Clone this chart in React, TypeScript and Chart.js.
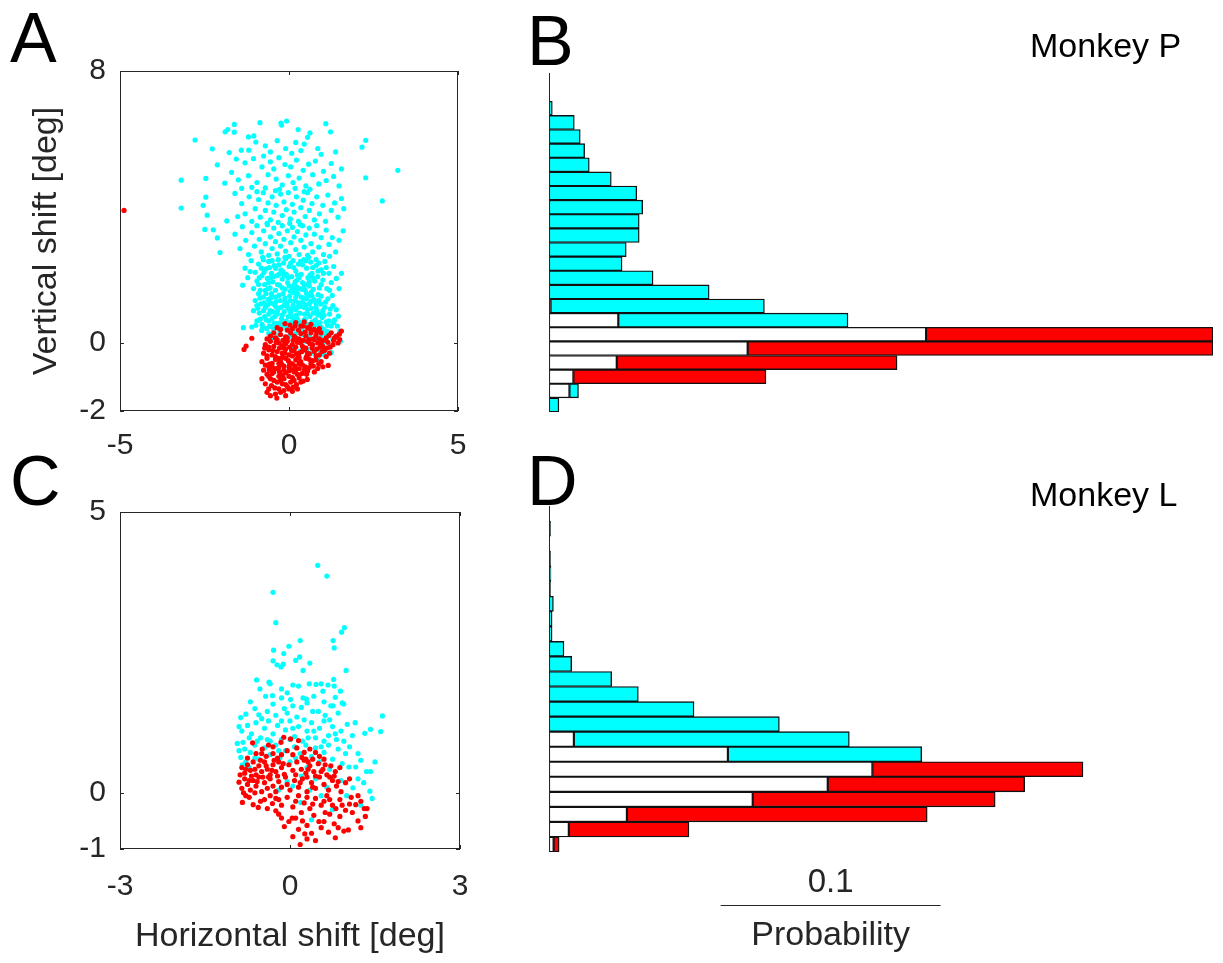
import React, { useEffect, useRef } from 'react';
import { Chart, registerables } from 'chart.js';

Chart.register(...registerables);

type P = [number, number];

// ---------- Panel A (Monkey P) scatter: [horizontal deg, vertical deg] ----------
const A_RED: P[] = [
  [-4.88, 3.9], [-1.33, -0.19], [-1.27, -0.09], [-1.1, 0.14],
  [-0.12, 0.57], [0.03, 0.53], [0.2, 0.6], [0.35, 0.5], [0.55, 0.45], [0.75, 0.4], [-0.25, 0.4], [0.1, 0.42], [0.45, 0.62], [0.65, 0.55], [-0.05, 0.38], [0.28, 0.38], [0.9, 0.42],
  [-0.55, 0.2], [-0.4, 0.15], [-0.25, 0.25], [-0.1, 0.18], [0.05, 0.3], [0.2, 0.15], [0.35, 0.28], [0.5, 0.2], [0.65, 0.3], [0.8, 0.22], [0.95, 0.3], [1.1, 0.15], [1.25, 0.3], [1.4, 0.2], [1.49, 0.26], [1.55, 0.35], [1.5, 0.1], [-0.45, 0.3], [0.6, 0.1], [0.9, 0.12], [-0.65, 0.12], [0.12, 0.08], [0.42, 0.08], [1.02, 0.08], [1.32, 0.08], [-0.18, 0.08], [0.72, 0.12],
  [-0.7, -0.05], [-0.55, 0.05], [-0.45, -0.1], [-0.3, 0.0], [-0.2, -0.08], [-0.05, 0.05], [0.1, -0.05], [0.25, 0.02], [0.4, -0.1], [0.55, 0.05], [0.7, -0.05], [0.85, 0.0], [1.0, -0.1], [1.15, 0.02], [1.3, -0.05], [1.45, 0.0], [-0.35, 0.1], [0.3, 0.12], [0.75, 0.1], [-0.15, -0.15], [0.2, -0.12], [0.5, -0.15], [0.02, -0.12], [-0.6, -0.12], [1.22, -0.12], [0.92, -0.12],
  [-0.75, -0.3], [-0.6, -0.2], [-0.5, -0.35], [-0.35, -0.25], [-0.2, -0.3], [-0.1, -0.18], [0.0, -0.35], [0.15, -0.22], [0.3, -0.3], [0.45, -0.2], [0.6, -0.32], [0.75, -0.25], [0.9, -0.35], [1.05, -0.22], [1.2, -0.3], [-0.4, -0.4], [-0.2, -0.42], [0.1, -0.38], [0.3, -0.42], [-0.65, -0.38], [0.52, -0.4], [0.82, -0.18], [-0.28, -0.15], [1.1, -0.4],
  [-0.8, -0.55], [-0.65, -0.45], [-0.5, -0.6], [-0.4, -0.48], [-0.25, -0.55], [-0.1, -0.45], [0.05, -0.6], [0.2, -0.5], [0.35, -0.55], [0.5, -0.45], [0.65, -0.6], [0.8, -0.5], [0.95, -0.55], [1.0, -0.7], [1.16, -0.66], [-0.3, -0.6], [0.1, -0.62], [0.4, -0.65], [-0.15, -0.68], [0.25, -0.45], [0.72, -0.68], [-0.58, -0.62], [0.6, -0.48], [-0.02, -0.52],
  [-0.75, -0.8], [-0.6, -0.7], [-0.45, -0.85], [-0.3, -0.72], [-0.15, -0.8], [0.0, -0.7], [0.15, -0.85], [0.3, -0.75], [0.45, -0.8], [0.6, -0.72], [0.75, -0.85], [-0.2, -0.95], [0.25, -0.92], [-0.5, -0.9], [-0.1, -0.88], [0.08, -0.78], [0.38, -0.9], [-0.38, -0.75], [0.52, -0.92], [0.85, -0.75], [-0.65, -0.92],
  [-0.8, -1.05], [-0.6, -0.98], [-0.45, -1.1], [-0.3, -0.98], [-0.15, -1.05], [0.0, -0.98], [0.15, -1.1], [0.3, -1.02], [0.54, -1.07], [-0.7, -1.2], [-0.35, -1.15], [0.05, -1.15], [-0.52, -1.25], [-0.2, -1.2], [0.22, -1.22], [0.42, -1.12], [-0.05, -1.28],
  [-0.6, -1.35], [-0.3, -1.35], [0.0, -1.35], [0.25, -1.35], [-0.65, -1.45], [-0.4, -1.5], [-0.25, -1.45], [-0.1, -1.55], [-0.36, -1.62], [-0.55, -1.55], [-0.15, -1.4], [0.1, -1.42],
  [-0.72, -0.15], [-0.48, -0.22], [-0.32, -0.45], [-0.12, -0.3], [0.08, -0.22], [0.22, -0.32], [0.38, -0.25], [0.55, -0.3], [0.68, -0.15], [0.8, -0.38], [0.98, -0.25], [1.12, -0.15], [-0.7, -0.65], [-0.48, -0.72], [-0.22, -0.62], [0.02, -0.62], [0.18, -0.68], [0.3, -0.6], [0.48, -0.7], [0.7, -0.52], [0.88, -0.62], [-0.55, -1.05], [-0.25, -1.1], [0.1, -1.02], [0.35, -1.15], [-0.42, -1.32], [-0.1, -1.22], [0.12, -1.3], [-0.28, -0.85], [0.0, -0.82], [0.2, -0.8], [0.55, -0.82], [-0.58, -0.8], [-0.38, 0.02], [-0.05, 0.15], [0.15, 0.2], [0.48, 0.32], [0.62, 0.42], [0.82, 0.32], [1.18, 0.22], [1.35, 0.15], [0.35, 0.0], [0.62, -0.02], [0.95, -0.02], [-0.1, -0.02], [0.18, 0.5], [0.42, 0.5], [-0.35, 0.45],
];

const A_CYAN: P[] = [
  [-2.78, 5.97], [-1.89, 6.21], [-1.81, 6.28], [-1.62, 6.43], [-1.62, 6.2], [-1.2, 6.06], [-1.04, 6.09], [-0.98, 5.91], [-0.86, 6.48], [-0.24, 6.47], [-0.22, 6.41], [-0.07, 6.53], [0.27, 6.28], [0.45, 5.85], [0.55, 6.05], [0.62, 6.18], [1.09, 6.45], [1.23, 6.21], [2.16, 5.76], [2.27, 5.96], [-2.27, 5.71], [-1.77, 5.6], [-1.41, 5.67], [-1.19, 5.67], [-0.55, 5.62], [-0.35, 5.95], [-0.1, 5.72], [0.08, 5.58], [0.2, 5.9], [0.85, 5.72], [1.38, 5.62], [0.35, 5.66], [-0.7, 5.8], [0.95, 5.55],
  [3.22, 5.08], [2.27, 4.86], [-3.19, 4.79], [-2.12, 5.24], [-2.46, 4.84], [-1.7, 5.02], [-1.56, 5.41], [-1.9, 4.7], [-1.5, 4.8], [-1.3, 5.3], [-1.2, 4.92], [-1.05, 5.42], [-0.95, 4.72], [-0.8, 5.18], [-0.75, 5.5], [-0.62, 4.95], [-0.55, 5.33], [-0.45, 5.12], [-0.38, 4.82], [-0.3, 5.45], [-0.2, 4.65], [-0.12, 5.25], [-0.02, 4.92], [0.05, 5.18], [0.12, 4.72], [0.22, 5.38], [0.3, 4.85], [0.42, 5.08], [0.5, 4.62], [0.58, 5.26], [0.7, 4.95], [0.78, 5.35], [0.88, 4.68], [1.02, 5.05], [1.1, 4.78], [1.25, 5.28], [1.32, 4.9], [1.48, 4.62], [-1.1, 4.58], [-0.7, 4.56], [-0.28, 4.52], [0.18, 4.55], [0.62, 4.52], [1.55, 5.12], [-1.4, 4.55],
  [-3.19, 3.97], [2.76, 4.18], [-2.46, 4.29], [-2.54, 4.05], [-2.42, 3.76], [-1.84, 3.59], [-1.6, 4.4], [-1.52, 3.72], [-1.4, 4.1], [-1.3, 3.8], [-1.18, 4.3], [-1.1, 3.58], [-1.0, 3.95], [-0.9, 4.22], [-0.85, 3.7], [-0.76, 4.42], [-0.7, 3.9], [-0.62, 4.12], [-0.55, 3.62], [-0.5, 4.3], [-0.45, 3.85], [-0.38, 4.05], [-0.32, 3.55], [-0.25, 4.38], [-0.2, 3.75], [-0.15, 4.15], [-0.08, 3.92], [-0.02, 4.42], [0.04, 3.65], [0.1, 4.08], [0.15, 3.85], [0.22, 4.3], [0.28, 3.58], [0.35, 3.98], [0.42, 4.2], [0.48, 3.72], [0.55, 4.42], [0.6, 3.9], [0.68, 4.1], [0.75, 3.62], [0.82, 4.3], [0.9, 3.8], [1.0, 4.05], [1.08, 3.58], [1.15, 4.35], [1.25, 3.9], [1.35, 4.12], [1.45, 3.7], [1.55, 4.25], [1.62, 3.95], [-0.95, 4.45], [0.45, 4.45], [-0.4, 4.48], [0.02, 3.52], [-0.65, 3.52],
  [-2.49, 3.34], [-2.24, 3.33], [-2.12, 3.09], [-2.04, 2.66], [-1.6, 3.2], [-1.45, 2.78], [-1.38, 3.42], [-1.28, 3.02], [-1.2, 2.6], [-1.1, 3.25], [-1.02, 2.85], [-0.95, 3.45], [-0.88, 3.05], [-0.82, 2.68], [-0.75, 3.3], [-0.7, 2.92], [-0.64, 3.48], [-0.6, 2.58], [-0.55, 3.12], [-0.5, 2.78], [-0.45, 3.38], [-0.4, 2.98], [-0.35, 2.62], [-0.3, 3.22], [-0.25, 2.85], [-0.2, 3.45], [-0.15, 3.05], [-0.1, 2.7], [-0.05, 3.3], [0.0, 2.55], [0.05, 2.95], [0.1, 3.4], [0.15, 3.12], [0.2, 2.75], [0.25, 3.28], [0.3, 2.6], [0.35, 3.02], [0.4, 3.45], [0.45, 2.82], [0.5, 3.18], [0.55, 2.58], [0.6, 3.38], [0.65, 2.92], [0.7, 2.68], [0.75, 3.2], [0.82, 3.45], [0.88, 2.82], [0.95, 3.1], [1.02, 2.6], [1.1, 3.32], [1.18, 2.9], [1.28, 3.1], [1.38, 2.68], [1.48, 3.02], [1.6, 3.3], [-0.12, 2.52], [0.58, 2.52], [-0.78, 2.52], [1.2, 2.55], [0.33, 3.48],
  [-1.37, 1.7], [-1.3, 2.2], [-1.22, 1.92], [-1.12, 2.42], [-1.05, 1.6], [-1.0, 2.08], [-0.95, 1.82], [-0.9, 2.32], [-0.85, 1.55], [-0.8, 1.98], [-0.76, 2.45], [-0.72, 1.72], [-0.68, 2.18], [-0.64, 1.9], [-0.6, 2.4], [-0.56, 1.62], [-0.52, 2.05], [-0.48, 1.8], [-0.44, 2.28], [-0.4, 1.55], [-0.36, 1.98], [-0.32, 2.45], [-0.28, 1.7], [-0.24, 2.15], [-0.2, 1.88], [-0.16, 2.35], [-0.12, 1.58], [-0.08, 2.02], [-0.04, 1.78], [0.0, 2.25], [0.04, 1.52], [0.08, 1.95], [0.12, 2.42], [0.16, 1.72], [0.2, 2.12], [0.24, 1.85], [0.28, 2.32], [0.32, 1.6], [0.36, 2.02], [0.4, 1.78], [0.44, 2.45], [0.48, 1.55], [0.52, 2.2], [0.56, 1.92], [0.6, 1.68], [0.64, 2.38], [0.68, 2.05], [0.72, 1.58], [0.76, 1.82], [0.8, 2.28], [0.85, 1.95], [0.9, 1.62], [0.95, 2.15], [1.0, 1.85], [1.06, 2.4], [1.12, 1.6], [1.18, 2.05], [1.25, 1.78], [1.32, 2.25], [1.4, 1.9], [1.48, 1.6], [-0.7, 1.55], [-0.5, 2.42], [-0.3, 2.02], [-0.1, 2.48], [0.1, 1.62], [0.3, 1.92], [0.5, 2.42], [0.7, 2.22], [-0.9, 1.72], [-0.6, 1.78], [-0.2, 1.62], [0.2, 1.58], [0.6, 1.8], [0.95, 1.72], [-0.4, 2.2], [0.0, 1.68], [0.4, 2.3], [0.8, 2.45], [-0.15, 1.98], [0.25, 2.0], [0.62, 2.0], [1.1, 2.22], [-1.15, 2.1], [1.55, 2.05], [-0.82, 2.2], [0.05, 2.35], [-0.55, 1.92], [0.45, 1.68], [0.88, 2.35],
  [-0.88, 1.92], [-0.74, 2.08], [-0.62, 1.6], [-0.46, 1.95], [-0.34, 1.72], [-0.18, 2.1], [-0.02, 1.92], [0.14, 2.22], [0.22, 1.65], [0.38, 1.58], [0.54, 1.72], [0.7, 1.92], [0.86, 2.12], [1.02, 2.05], [1.2, 1.55], [-0.3, 2.3], [0.34, 2.4], [0.66, 1.5], [-0.58, 2.22], [0.18, 1.8],
  [-1.35, 0.45], [-1.1, 0.47], [-0.81, 0.37], [-1.05, 0.95], [-1.0, 1.25], [-0.95, 0.65], [-0.9, 1.45], [-0.88, 0.88], [-0.84, 1.15], [-0.8, 0.55], [-0.76, 1.35], [-0.72, 0.78], [-0.7, 1.05], [-0.66, 0.42], [-0.62, 1.28], [-0.6, 0.65], [-0.56, 0.95], [-0.52, 1.45], [-0.5, 0.48], [-0.46, 1.15], [-0.42, 0.78], [-0.4, 1.35], [-0.36, 0.58], [-0.32, 1.02], [-0.28, 0.38], [-0.26, 1.25], [-0.22, 0.72], [-0.18, 1.45], [-0.14, 0.92], [-0.1, 0.52], [-0.06, 1.18], [-0.02, 0.78], [0.02, 1.38], [0.06, 0.6], [0.1, 1.02], [0.14, 0.42], [0.18, 1.25], [0.22, 0.82], [0.26, 1.45], [0.3, 0.62], [0.34, 1.08], [0.38, 0.45], [0.42, 1.32], [0.46, 0.85], [0.5, 1.12], [0.54, 0.55], [0.58, 1.4], [0.62, 0.78], [0.66, 1.02], [0.7, 0.48], [0.74, 1.28], [0.78, 0.68], [0.82, 0.95], [0.86, 1.42], [0.9, 0.52], [0.94, 1.15], [0.98, 0.75], [1.02, 0.4], [1.06, 1.05], [1.1, 0.62], [1.15, 1.3], [1.2, 0.85], [1.25, 0.5], [1.3, 1.1], [1.35, 0.68], [1.46, 0.79], [1.43, 0.5], [1.5, 0.35], [1.4, 0.98], [-0.75, 0.95], [-0.55, 1.18], [-0.35, 0.85], [-0.15, 1.1], [0.05, 0.9], [0.25, 1.05], [0.45, 0.68], [0.65, 1.22], [0.85, 0.82], [-0.45, 0.4], [-0.05, 0.38], [0.35, 0.35], [0.75, 0.38], [1.12, 0.35], [-0.6, 0.85], [-0.25, 0.6], [0.12, 0.7], [0.55, 0.98], [0.95, 1.38], [-0.85, 0.7], [-0.4, 1.08], [0.0, 1.0], [0.4, 1.2], [0.8, 1.15], [1.18, 0.65], [-0.68, 1.45], [-0.12, 1.32], [0.28, 0.55], [0.68, 0.62], [1.0, 0.95], [-0.3, 1.4], [0.15, 1.48], [0.52, 1.45], [-0.95, 1.1], [0.92, 0.6], [-0.2, 0.45], [0.6, 0.42], [0.2, 0.98], [-0.5, 0.72], [1.28, 1.4],
  [-0.98, 0.52], [-0.92, 1.02], [-0.86, 1.32], [-0.78, 0.48], [-0.74, 1.18], [-0.67, 0.68], [-0.63, 1.12], [-0.58, 0.5], [-0.54, 1.32], [-0.48, 0.92], [-0.44, 0.58], [-0.38, 1.22], [-0.34, 0.95], [-0.3, 0.48], [-0.24, 1.05], [-0.2, 0.82], [-0.16, 0.55], [-0.12, 1.2], [-0.08, 0.65], [-0.04, 1.05], [0.0, 0.45], [0.04, 1.25], [0.08, 0.78], [0.12, 1.12], [0.16, 0.58], [0.2, 1.35], [0.24, 0.72], [0.28, 1.18], [0.32, 0.88], [0.36, 1.35], [0.4, 0.55], [0.44, 1.05], [0.48, 0.7], [0.52, 1.3], [0.56, 0.85], [0.6, 1.15], [0.64, 0.52], [0.68, 1.38], [0.72, 0.88], [0.76, 0.52], [0.8, 1.05], [0.84, 0.6], [0.88, 1.25], [0.92, 0.85], [0.96, 0.45], [1.04, 0.82], [1.08, 1.2], [1.14, 0.52], [1.22, 1.0], [1.32, 0.6],
  [-0.6, 0.28], [-0.5, 0.15], [-0.3, 0.25], [0.0, 0.2], [0.2, 0.28], [0.4, 0.25], [0.5, 0.05], [0.6, 0.2], [0.7, -0.1], [0.8, 0.1], [0.9, -0.2], [1.0, 0.0], [1.1, 0.25], [1.2, -0.1], [1.3, 0.12], [1.4, 0.2], [1.05, -0.35], [0.85, -0.45], [0.08, -0.14], [0.33, -0.24], [0.52, -0.19], [1.25, -0.28], [1.52, 0.05], [0.95, 0.22], [0.65, -0.3],
];

// ---------- Panel C (Monkey L) scatter ----------
const C_RED: P[] = [
  [-0.66, 0.89], [-0.49, 0.78], [-0.16, 0.9], [0.01, 0.96], [0.15, 0.93], [-0.11, 0.99], [0.21, 0.63], [0.28, 0.6], [0.32, 0.55], [-0.6, 0.7], [-0.38, 0.85], [-0.3, 0.7], [-0.05, 0.75], [0.05, 0.68], [0.35, 0.78], [0.45, 0.72], [0.52, 0.65], [-0.75, 0.62], [-0.22, 0.62], [0.6, 0.6], [-0.42, 0.65], [0.12, 0.8],
  [-0.85, 0.45], [-0.8, 0.35], [-0.75, 0.5], [-0.7, 0.4], [-0.65, 0.55], [-0.6, 0.32], [-0.55, 0.48], [-0.5, 0.38], [-0.45, 0.55], [-0.4, 0.42], [-0.35, 0.32], [-0.3, 0.5], [-0.25, 0.38], [-0.2, 0.55], [-0.15, 0.45], [-0.1, 0.33], [-0.02, 0.5], [0.05, 0.4], [0.12, 0.55], [0.2, 0.42], [0.28, 0.35], [0.35, 0.48], [0.42, 0.38], [0.5, 0.52], [0.58, 0.42], [0.65, 0.32], [0.72, 0.48], [0.8, 0.38], [0.88, 0.45], [-0.68, 0.3], [-0.52, 0.58], [-0.28, 0.58], [0.25, 0.58], [0.45, 0.3],
  [-0.9, 0.19], [-0.85, 0.08], [-0.8, 0.25], [-0.75, 0.15], [-0.7, 0.05], [-0.65, 0.22], [-0.6, 0.12], [-0.55, 0.28], [-0.5, 0.02], [-0.45, 0.18], [-0.4, 0.08], [-0.35, 0.25], [-0.3, 0.12], [-0.25, 0.02], [-0.2, 0.2], [-0.15, 0.1], [-0.08, 0.28], [0.0, 0.05], [0.08, 0.22], [0.15, 0.1], [0.22, 0.25], [0.3, 0.02], [0.38, 0.18], [0.45, 0.08], [0.52, 0.28], [0.6, 0.15], [0.68, 0.05], [0.75, 0.22], [0.82, 0.12], [0.9, 0.02], [0.98, 0.18], [1.05, 0.25], [-0.62, 0.0], [-0.38, 0.28], [0.3, 0.28], [0.7, 0.28], [-0.82, 0.0],
  [-0.84, -0.17], [-0.65, -0.21], [-0.56, -0.26], [-0.31, -0.19], [-0.25, -0.1], [-0.72, -0.08], [-0.45, -0.12], [-0.15, -0.22], [-0.05, -0.08], [0.05, -0.25], [0.15, -0.05], [0.25, -0.18], [0.35, -0.28], [0.45, -0.1], [0.55, -0.22], [0.65, -0.05], [0.75, -0.22], [0.81, -0.28], [0.88, -0.12], [0.98, -0.31], [1.08, -0.08], [1.16, -0.21], [1.31, -0.28], [1.36, -0.28], [1.2, -0.05], [-0.4, -0.28], [0.3, -0.08], [0.6, -0.15],
  [1.2, -0.5], [1.33, -0.42], [1.03, -0.66], [-0.02, -0.51], [0.04, -0.45], [0.1, -0.45], [0.51, -0.51], [0.6, -0.51], [0.26, -0.73], [0.38, -0.72], [0.18, -0.92], [-0.2, -0.38], [-0.1, -0.6], [0.2, -0.35], [0.3, -0.58], [0.42, -0.4], [0.7, -0.38], [0.78, -0.55], [0.88, -0.42], [0.95, -0.68], [1.1, -0.35], [0.68, -0.7], [0.15, -0.65], [0.45, -0.85], [-0.15, -0.45], [0.8, -0.8], [0.55, -0.62], [1.25, -0.62], [-0.25, -0.32], [0.05, -0.78], [0.3, -0.82],
  [-0.88, 0.32], [-0.78, 0.42], [-0.72, 0.22], [-0.62, 0.42], [-0.58, 0.2], [-0.48, 0.28], [-0.42, 0.48], [-0.32, 0.4], [-0.22, 0.3], [-0.12, 0.52], [-0.05, 0.15], [0.1, 0.32], [0.18, 0.18], [0.32, 0.42], [0.4, 0.1], [0.55, 0.38], [0.62, 0.5], [0.78, 0.3], [0.85, 0.2], [-0.78, -0.05], [-0.52, -0.15], [-0.35, -0.05], [-0.2, -0.12], [0.1, -0.15], [0.4, -0.2], [0.7, -0.12], [0.92, -0.22], [1.05, -0.2], [1.25, -0.15], [0.22, -0.5], [0.62, -0.35], [0.85, -0.62], [-0.3, 0.82], [0.25, 0.72], [-0.15, 0.68], [-0.5, 0.7], [0.4, 0.6],
];

const C_CYAN: P[] = [
  [0.49, 4.05], [0.65, 3.86], [-0.3, 3.57], [-0.25, 3.03], [0.96, 2.94], [0.91, 2.86], [0.18, 2.71], [0.76, 2.71], [0.78, 2.58], [-0.02, 2.61], [-0.29, 2.54], [-0.11, 2.48], [-0.3, 2.35], [-0.23, 2.28], [-0.16, 2.24], [-0.12, 2.29], [0.1, 2.36], [0.17, 2.42], [0.35, 2.31], [0.23, 2.18], [0.99, 2.18], [-0.59, 2.01], [-0.53, 1.85], [-0.37, 1.97], [-0.35, 1.94], [-0.15, 1.85], [0.05, 1.92], [0.15, 1.9], [0.34, 1.94], [0.46, 1.93], [0.55, 1.94], [0.67, 1.92], [0.77, 2.02], [0.78, 1.9], [0.89, 1.81], [0.58, 1.81],
  [-0.31, 1.73], [-0.43, 1.72], [-0.15, 1.69], [0.01, 1.66], [0.23, 1.69], [0.29, 1.67], [0.05, 1.55], [0.2, 1.52], [0.4, 1.45], [0.5, 1.45], [0.72, 1.55], [0.76, 1.55], [0.8, 1.7], [0.92, 1.6], [0.95, 1.58], [1.63, 1.37], [-0.87, 1.34], [-0.78, 1.4], [-0.62, 1.5], [-0.55, 1.39], [-0.4, 1.45], [-0.25, 1.38], [-0.1, 1.5], [0.12, 1.35], [0.3, 1.6], [0.62, 1.38], [0.85, 1.42], [-0.7, 1.62], [0.42, 1.72], [-0.05, 1.78],
  [1.01, 1.22], [1.1, 1.02], [1.32, 1.06], [1.42, 1.13], [1.6, 1.09], [-0.93, 0.88], [-0.83, 0.9], [-0.75, 1.2], [-0.68, 1.05], [-0.6, 1.25], [-0.52, 0.98], [-0.45, 1.15], [-0.38, 1.28], [-0.3, 1.05], [-0.22, 1.2], [-0.15, 0.95], [-0.08, 1.12], [0.0, 1.28], [0.08, 1.0], [0.15, 1.18], [0.22, 0.92], [0.3, 1.1], [0.38, 1.25], [0.45, 0.98], [0.52, 1.15], [0.6, 1.28], [0.68, 1.02], [0.75, 1.18], [0.82, 0.95], [0.9, 1.1], [0.95, 0.92], [-0.58, 0.92], [-0.35, 0.92], [0.05, 1.15], [0.6, 0.92], [-0.85, 1.1],
  [-0.87, 0.63], [-0.78, 0.55], [-0.84, 0.5], [-0.9, 0.75], [-0.7, 0.72], [-0.62, 0.85], [-0.55, 0.6], [-0.45, 0.8], [-0.35, 0.68], [-0.25, 0.85], [-0.18, 0.62], [-0.08, 0.75], [0.0, 0.55], [0.08, 0.82], [0.18, 0.7], [0.28, 0.85], [0.38, 0.65], [0.45, 0.8], [0.52, 0.55], [0.6, 0.72], [0.68, 0.85], [0.75, 0.6], [0.85, 0.78], [0.92, 0.52], [1.04, 0.46], [1.16, 0.46], [1.35, 0.38], [1.42, 0.38], [0.98, 0.7], [-0.72, 0.45], [0.3, 0.45], [0.7, 0.42],
  [1.11, 0.09], [1.41, 0.03], [1.45, -0.1], [0.19, -0.17], [0.38, -0.48], [1.25, -0.22], [0.2, 0.3], [0.05, 0.12], [-0.05, 0.2], [0.35, 0.05], [0.45, 0.25], [0.55, -0.05], [0.9, 0.22], [1.0, -0.05], [1.2, 0.25], [0.65, 0.1], [-0.2, 0.05], [0.75, -0.3], [1.3, 0.18],
  [-0.8, 0.78], [-0.62, 0.62], [-0.4, 0.95], [-0.2, 0.75], [0.1, 0.62], [0.32, 0.98], [0.55, 0.82], [0.8, 1.05], [1.05, 0.82], [1.2, 0.7], [-0.72, 0.98], [-0.5, 1.32], [-0.15, 1.28], [0.25, 1.3], [0.7, 1.3], [1.15, 1.25], [-0.9, 1.18], [0.42, 1.1], [-0.3, 1.58], [0.6, 1.62], [1.25, 0.58], [1.5, 0.55], [0.0, 0.95], [-0.05, 1.42],
];

const A_X_TICKS = [-5, 0, 5];
const A_Y_TICKS = [-2, 0, 8];
const C_X_TICKS = [-3, 0, 3];
const C_Y_TICKS = [-1, 0, 5];

// ---------- Panel B histogram (probability per vertical-shift bin, top bin first) ----------
const B_BINS = ['7.71', '7.29', '6.88', '6.46', '6.04', '5.63', '5.21', '4.79', '4.38', '3.96', '3.54', '3.13', '2.71', '2.29', '1.88', '1.46', '1.04', '0.63', '0.21', '-0.21', '-0.63', '-1.04', '-1.46', '-1.88'];
const B_WHITE = [null, null, null, null, null, null, null, null, null, null, null, null, null, null, null, null, 0.0007, 0.0315, 0.1714, 0.0903, 0.0308, 0.0111, 0.0093, null];
const B_CYAN = [null, null, 0.0015, 0.0115, 0.0142, 0.0162, 0.0183, 0.0283, 0.0399, 0.0426, 0.041, 0.041, 0.0351, 0.0332, 0.0473, 0.0728, 0.0972, 0.1044, null, null, null, null, 0.0041, 0.0045];
const B_RED = [null, null, null, null, null, null, null, null, null, null, null, null, null, null, null, null, null, null, 0.1304, 0.2115, 0.1274, 0.0875, null, null];

// ---------- Panel D histogram ----------
const D_BINS = ['4.625', '4.375', '4.125', '3.875', '3.625', '3.375', '3.125', '2.875', '2.625', '2.375', '2.125', '1.875', '1.625', '1.375', '1.125', '0.875', '0.625', '0.375', '0.125', '-0.125', '-0.375', '-0.625', '-0.875'];
const D_WHITE = [null, null, null, null, null, null, null, null, null, null, null, null, null, null, null, 0.0113, 0.0813, 0.147, 0.1267, 0.0926, 0.0354, 0.009, 0.0021];
const D_CYAN = [null, 0.0007, null, 0.0007, 0.0009, 0.0007, 0.002, 0.0014, 0.0014, 0.0068, 0.0103, 0.0285, 0.0406, 0.0659, 0.1047, 0.1252, 0.0881, null, null, null, null, null, null];
const D_RED = [null, null, null, null, null, null, null, null, null, null, null, null, null, null, null, null, null, 0.0957, 0.0895, 0.1102, 0.1365, 0.0546, 0.0025];

const PROB_MAX = 0.3018;
const SCALE_BAR_START = 0.078;
const SCALE_BAR_VALUE = 0.1;

const FONT = '"Liberation Sans", Arial, Helvetica, sans-serif';
const AXIS_COLOR = '#262626';
const CYAN = '#00ffff';
const RED = '#ff0000';

Chart.defaults.font.family = FONT;

const scatterFrame = {
  id: 'scatterFrame',
  afterDatasetsDraw(chart: any) {
    const { ctx, chartArea: a, scales } = chart;
    ctx.save();
    ctx.strokeStyle = AXIS_COLOR;
    ctx.lineWidth = 1;
    ctx.strokeRect(a.left + 0.5, a.top + 0.5, a.right - a.left - 1, a.bottom - a.top - 1);
    const tl = 4;
    ctx.beginPath();
    for (const t of scales.x.ticks) {
      const px = Math.round(scales.x.getPixelForValue(t.value)) + 0.5;
      ctx.moveTo(px, a.bottom);
      ctx.lineTo(px, a.bottom - tl);
      ctx.moveTo(px, a.top);
      ctx.lineTo(px, a.top + tl);
    }
    for (const t of scales.y.ticks) {
      const py = Math.round(scales.y.getPixelForValue(t.value)) + 0.5;
      ctx.moveTo(a.left, py);
      ctx.lineTo(a.left + tl, py);
      ctx.moveTo(a.right, py);
      ctx.lineTo(a.right - tl, py);
    }
    ctx.stroke();
    ctx.restore();
  },
};

const histAxis = {
  id: 'histAxis',
  afterDatasetsDraw(chart: any) {
    const { ctx, chartArea: a } = chart;
    ctx.save();
    ctx.strokeStyle = AXIS_COLOR;
    ctx.lineWidth = 1;
    ctx.beginPath();
    ctx.moveTo(a.left + 0.5, a.top);
    ctx.lineTo(a.left + 0.5, a.bottom);
    ctx.stroke();
    ctx.restore();
  },
};

const scaleBar = {
  id: 'scaleBar',
  afterDraw(chart: any) {
    const { ctx, chartArea: a, scales } = chart;
    const x0 = scales.x.getPixelForValue(SCALE_BAR_START);
    const x1 = scales.x.getPixelForValue(SCALE_BAR_START + SCALE_BAR_VALUE);
    const mid = (x0 + x1) / 2;
    ctx.save();
    ctx.strokeStyle = AXIS_COLOR;
    ctx.lineWidth = 1;
    ctx.beginPath();
    ctx.moveTo(x0, Math.round(a.bottom + 53) + 0.5);
    ctx.lineTo(x1, Math.round(a.bottom + 53) + 0.5);
    ctx.stroke();
    ctx.fillStyle = AXIS_COLOR;
    ctx.textAlign = 'center';
    ctx.textBaseline = 'alphabetic';
    ctx.font = `33px ${FONT}`;
    ctx.fillText(String(SCALE_BAR_VALUE), mid, a.bottom + 40);
    ctx.font = `34px ${FONT}`;
    ctx.fillText('Probability', mid, a.bottom + 93);
    ctx.restore();
  },
};

function scatterConfig(
  red: P[], cyan: P[], xr: [number, number], yr: [number, number],
  xTicks: number[], yTicks: number[], padTop: number, padRight: number,
  xAxisH: number, xTickPad: number,
): any {
  const pt = (color: string) => ({
    pointRadius: 2.6, pointHoverRadius: 2.6, pointBorderWidth: 0,
    pointBackgroundColor: color, pointBorderColor: color, backgroundColor: color, borderColor: color,
  });
  return {
    type: 'scatter',
    data: {
      datasets: [
        { data: red.map(([x, y]) => ({ x, y })), ...pt(RED) },
        { data: cyan.map(([x, y]) => ({ x, y })), ...pt(CYAN) },
      ],
    },
    options: {
      animation: false, responsive: false, maintainAspectRatio: false, events: [],
      layout: { padding: { left: 0, top: padTop, right: padRight, bottom: 0 } },
      plugins: { legend: { display: false }, tooltip: { enabled: false } },
      scales: {
        x: {
          type: 'linear', min: xr[0], max: xr[1],
          grid: { display: false, drawTicks: false }, border: { display: false },
          afterBuildTicks: (s: any) => { s.ticks = xTicks.map((v) => ({ value: v })); },
          afterFit: (s: any) => { s.height = xAxisH; },
          ticks: { font: { family: FONT, size: 30 }, color: AXIS_COLOR, padding: xTickPad, maxRotation: 0, autoSkip: false },
        },
        y: {
          type: 'linear', min: yr[0], max: yr[1],
          grid: { display: false, drawTicks: false }, border: { display: false },
          afterBuildTicks: (s: any) => { s.ticks = yTicks.map((v) => ({ value: v })); },
          afterFit: (s: any) => { s.width = 120; },
          ticks: { font: { family: FONT, size: 30 }, color: AXIS_COLOR, padding: 14, autoSkip: false },
        },
      },
    },
    plugins: [scatterFrame],
  };
}

function histConfig(
  bins: string[], white: (number | null)[], cyan: (number | null)[], red: (number | null)[],
  padTop: number, padBottom: number, extra: any[],
): any {
  const bar = (color: string) => ({
    backgroundColor: color, borderColor: '#111111', borderWidth: 1.4, borderSkipped: false,
    categoryPercentage: 1, barPercentage: 1,
  });
  return {
    type: 'bar',
    data: {
      labels: bins,
      datasets: [
        { data: white, ...bar('#ffffff') },
        { data: cyan, ...bar(CYAN) },
        { data: red, ...bar(RED) },
      ],
    },
    options: {
      indexAxis: 'y',
      animation: false, responsive: false, maintainAspectRatio: false, events: [],
      layout: { padding: { left: 9, top: padTop, right: 10, bottom: padBottom } },
      plugins: { legend: { display: false }, tooltip: { enabled: false } },
      scales: {
        x: { stacked: true, min: 0, max: PROB_MAX, display: false },
        y: { stacked: true, display: false },
      },
    },
    plugins: [histAxis, ...extra],
  };
}

function ChartBox({ make, left, top, width, height }: { make: () => any; left: number; top: number; width: number; height: number }) {
  const ref = useRef<HTMLCanvasElement>(null);
  useEffect(() => {
    const chart = new Chart(ref.current as HTMLCanvasElement, make());
    return () => chart.destroy();
  }, []);
  return (
    <canvas ref={ref} width={width} height={height}
      style={{ position: 'absolute', left, top, width, height, display: 'block' }} />
  );
}

function Label({ text, left, baseline, size, color = '#000', center = false }: { text: string; left: number; baseline: number; size: number; color?: string; center?: boolean }) {
  return (
    <div style={{
      position: 'absolute', left, top: baseline - 0.8465 * size, fontFamily: FONT, fontSize: size,
      lineHeight: 1, color, whiteSpace: 'nowrap', transform: center ? 'translateX(-50%)' : undefined,
    }}>{text}</div>
  );
}

export default function App() {
  return (
    <div style={{ position: 'absolute', left: 0, top: 0, width: 1223, height: 963, background: '#fff', overflow: 'hidden' }}>
      <ChartBox left={0} top={0} width={540} height={480}
        make={() => scatterConfig(A_RED, A_CYAN, [-5, 5], [-2, 8], A_X_TICKS, A_Y_TICKS, 71, 82, 69, 17)} />
      <ChartBox left={0} top={480} width={540} height={483}
        make={() => scatterConfig(C_RED, C_CYAN, [-3, 3], [-1, 5], C_X_TICKS, C_Y_TICKS, 28, 80, 114, 20)} />
      <ChartBox left={540} top={0} width={683} height={480}
        make={() => histConfig(B_BINS, B_WHITE, B_CYAN, B_RED, 73, 68, [])} />
      <ChartBox left={540} top={480} width={683} height={483}
        make={() => histConfig(D_BINS, D_WHITE, D_CYAN, D_RED, 26, 111, [scaleBar])} />

      <Label text="A" left={10} baseline={62} size={70} />
      <Label text="B" left={527} baseline={65} size={70} />
      <Label text="C" left={10} baseline={505} size={70} />
      <Label text="D" left={527} baseline={505} size={70} />
      <Label text="Monkey P" left={1030} baseline={57} size={34} />
      <Label text="Monkey L" left={1030} baseline={506} size={34} />
      <Label text="Horizontal shift [deg]" left={290} baseline={946} size={34} color={AXIS_COLOR} center />
      <div style={{
        position: 'absolute', left: 44, top: 241, fontFamily: FONT, fontSize: 34, lineHeight: 1,
        color: AXIS_COLOR, whiteSpace: 'nowrap', transform: 'translate(-50%, -50%) rotate(-90deg)',
      }}>Vertical shift [deg]</div>
    </div>
  );
}
